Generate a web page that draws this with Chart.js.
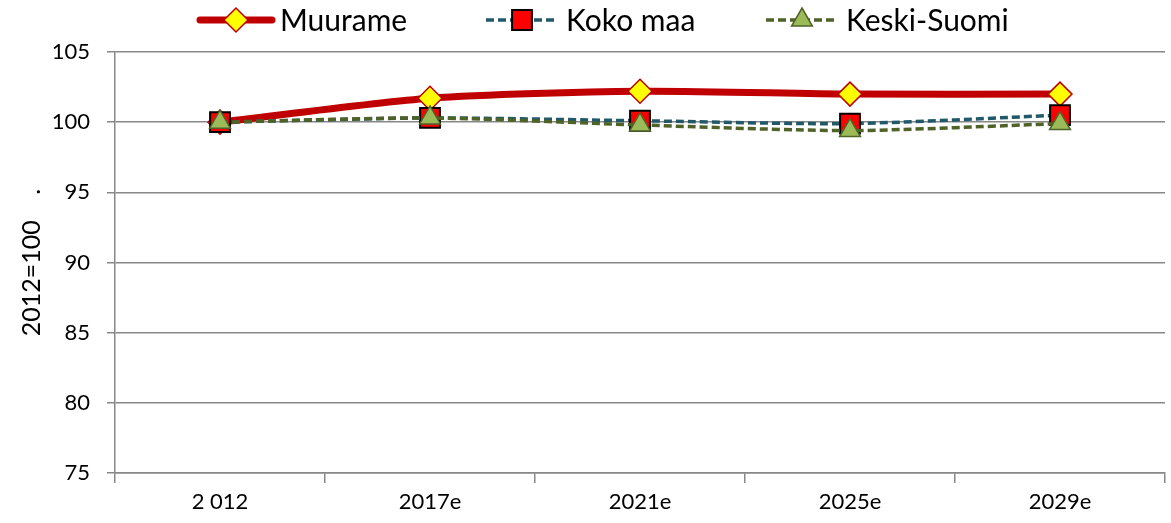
<!DOCTYPE html>
<html>
<head>
<meta charset="utf-8">
<script src="https://cdn.jsdelivr.net/npm/chart.js@4.4.1/dist/chart.umd.min.js"></script>
<style>
  body { margin: 0; background: #fff; }
  canvas { display: block; }
</style>
</head>
<body>
<canvas id="chart" width="1171" height="523"></canvas>
<script>
// Väestöennuste, indeksi 2012=100
const years = ['2 012', '2017e', '2021e', '2025e', '2029e'];
const muurame = [100, 101.7, 102.2, 102.0, 102.0];
const kokoMaa = [100, 100.3, 100.1, 99.9, 100.5];
const keskiSuomi = [100, 100.3, 99.8, 99.4, 99.9];
const yTicks = [75, 80, 85, 90, 95, 100, 105];

const FONT = 'Lato, "Open Sans", sans-serif';
const GRID = '#888888';

const series = [
  { label: 'Muurame', data: muurame, line: '#C00000', width: 7, dash: [],
    style: 'rectRot', radius: 12, fill: '#FFFF00', border: '#C00000', bw: 1.5 },
  { label: 'Koko maa', data: kokoMaa, line: '#215968', width: 3.5, dash: [8, 4],
    style: 'rect', radius: 14, fill: '#FF0000', border: '#000000', bw: 2 },
  { label: 'Keski-Suomi', data: keskiSuomi, line: '#4F6228', width: 3.5, dash: [8, 4],
    style: 'triangle', radius: 12, fill: '#9BBB59', border: '#4F6228', bw: 1.5 }
];

// legend drawn by hand: line + marker + text
const lineLegend = {
  id: 'lineLegend',
  afterDraw(chart) {
    const ctx = chart.ctx;
    const spots = [200, 486, 766];
    const y = 20;
    ctx.save();
    series.forEach((s, i) => {
      const x0 = spots[i];
      ctx.beginPath();
      ctx.strokeStyle = s.line;
      ctx.lineWidth = s.width;
      ctx.lineCap = s.dash.length ? 'butt' : 'round';
      ctx.setLineDash(s.dash);
      ctx.moveTo(x0, y);
      ctx.lineTo(x0 + 72, y);
      ctx.stroke();
      ctx.setLineDash([]);
      ctx.fillStyle = s.fill;
      ctx.strokeStyle = s.border;
      ctx.lineWidth = s.bw;
      Chart.helpers.drawPoint(ctx, { pointStyle: s.style, radius: s.radius, rotation: 0, borderWidth: s.bw }, x0 + 36, y);
      ctx.fillStyle = '#000';
      ctx.font = '30px ' + FONT;
      ctx.textBaseline = 'middle';
      ctx.fillText(s.label, x0 + 80, y + 1);
    });
    ctx.restore();
  }
};

new Chart(document.getElementById('chart'), {
  type: 'line',
  data: {
    labels: years,
    datasets: series.map((s, i) => ({
      label: s.label,
      data: s.data,
      borderColor: s.line,
      borderWidth: s.width,
      borderDash: s.dash,
      borderCapStyle: 'butt',
      tension: 0.25,
      pointStyle: s.style,
      pointRadius: s.radius,
      pointHoverRadius: s.radius,
      pointBackgroundColor: s.fill,
      pointBorderColor: s.border,
      pointBorderWidth: s.bw,
      order: 3 - i,
      fill: false
    }))
  },
  options: {
    responsive: false,
    animation: false,
    events: [],
    layout: { autoPadding: false, padding: { top: 52, right: 6, left: 0, bottom: 0 } },
    plugins: { legend: { display: false }, tooltip: { enabled: false } },
    scales: {
      x: {
        offset: true,
        grid: { offset: true, drawOnChartArea: false, color: GRID, tickLength: 10, lineWidth: 1.5 },
        border: { color: GRID, width: 1.5 },
        ticks: { color: '#000', font: { family: FONT, size: 22 }, padding: 6, maxRotation: 0 },
        afterFit(s) { s.height = 50; s.paddingRight = 0; }
      },
      y: {
        min: 75,
        max: 105,
        afterBuildTicks(s) { s.ticks = yTicks.map(v => ({ value: v })); },
        grid: { color: GRID, tickLength: 8, lineWidth: 1.5 },
        border: { color: GRID, width: 1.5 },
        ticks: { color: '#000', font: { family: FONT, size: 22 }, padding: 17 },
        title: {
          display: true,
          text: '2012=100    .',
          color: '#000',
          font: { family: FONT, size: 25 },
          padding: { top: 17, bottom: 0 }
        },
        afterFit(s) { s.width = 115; }
      }
    }
  },
  plugins: [lineLegend]
});
</script>
</body>
</html>
